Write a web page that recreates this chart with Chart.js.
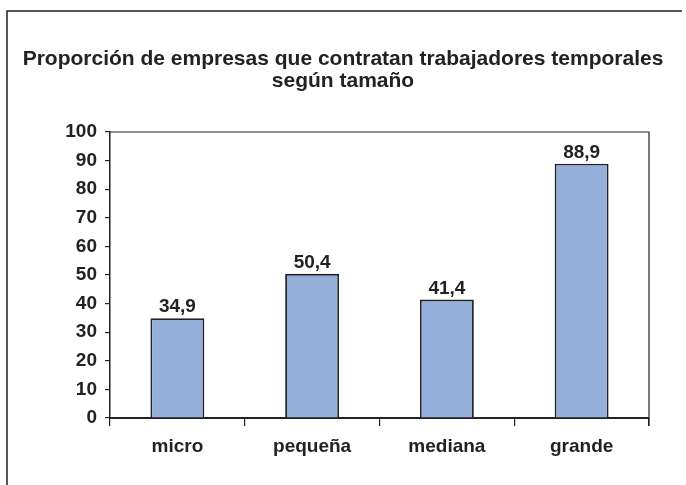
<!DOCTYPE html>
<html>
<head>
<meta charset="utf-8">
<script src="https://cdn.jsdelivr.net/npm/chart.js@4/dist/chart.umd.min.js"></script>
<style>
  html, body { margin: 0; padding: 0; background: #fff; }
  #wrap { width: 686px; height: 485px; }
</style>
</head>
<body>
<div id="wrap"><canvas id="myChart"></canvas></div>
<script>
// data
var categories = ['micro', 'pequeña', 'mediana', 'grande'];
var values = [34.9, 50.4, 41.4, 88.9];
var yTicks = [0, 10, 20, 30, 40, 50, 60, 70, 80, 90, 100];
var titleLines = ['Proporción de empresas que contratan trabajadores temporales', 'según tamaño'];

var ink = '#222222';

// frame, title, plot border and value labels
var extras = {
    id: 'extras',
    afterDraw: function(chart) {
        var ctx = chart.ctx;
        var a = chart.chartArea;
        ctx.save();
        ctx.strokeStyle = ink;
        ctx.lineWidth = 1.5;
        ctx.beginPath();
        ctx.moveTo(7, 485);
        ctx.lineTo(7, 11);
        ctx.lineTo(682, 11);
        ctx.stroke();

        ctx.lineWidth = 1.2;
        ctx.beginPath();
        ctx.moveTo(a.left, a.top);
        ctx.lineTo(a.right, a.top);
        ctx.lineTo(a.right, a.bottom + 8);
        ctx.stroke();

        ctx.fillStyle = ink;
        ctx.textAlign = 'center';
        ctx.textBaseline = 'alphabetic';
        ctx.font = 'bold 21px "Liberation Sans", Arial, sans-serif';
        ctx.fillText(titleLines[0], 343, 65);
        ctx.fillText(titleLines[1], 343, 87);

        ctx.font = 'bold 19px "Liberation Sans", Arial, sans-serif';
        var meta = chart.getDatasetMeta(0);
        meta.data.forEach(function(bar, i) {
            ctx.fillText(values[i].toFixed(1).replace('.', ','), bar.x, bar.y - 6);
        });
        ctx.restore();
    }
};

var ctx = document.getElementById('myChart').getContext('2d');
var myChart = new Chart(ctx, {
    type: 'bar',
    data: {
        labels: categories,
        datasets: [{
            data: values,
            backgroundColor: '#95AFDB',
            borderColor: ink,
            borderWidth: 1.8,
            barPercentage: 0.4,
            categoryPercentage: 1
        }]
    },
    options: {
        responsive: true,
        maintainAspectRatio: false,
        animation: false,
        layout: { padding: { top: 132, right: 37, left: 0, bottom: 0 } },
        plugins: {
            legend: { display: false },
            title: { display: false },
            tooltip: { enabled: false }
        },
        scales: {
            x: {
                afterFit: function(s) { s.height = 67; },
                grid: {
                    offset: true,
                    drawOnChartArea: false,
                    tickLength: 8,
                    color: ink,
                    lineWidth: 1.2
                },
                border: { color: ink, width: 2 },
                ticks: {
                    color: ink,
                    padding: 9,
                    font: { family: '"Liberation Sans", Arial, sans-serif', size: 19, weight: 'bold' }
                }
            },
            y: {
                min: 0,
                max: 100,
                afterFit: function(s) { s.width = 110; },
                afterBuildTicks: function(s) {
                    s.ticks = yTicks.map(function(v) { return { value: v }; });
                },
                grid: {
                    drawOnChartArea: false,
                    tickLength: 5,
                    color: ink,
                    lineWidth: 1.2
                },
                border: { color: ink, width: 1.5 },
                ticks: {
                    color: ink,
                    padding: 8,
                    font: { family: '"Liberation Sans", Arial, sans-serif', size: 19, weight: 'bold' }
                }
            }
        }
    },
    plugins: [extras]
});
</script>
</body>
</html>
